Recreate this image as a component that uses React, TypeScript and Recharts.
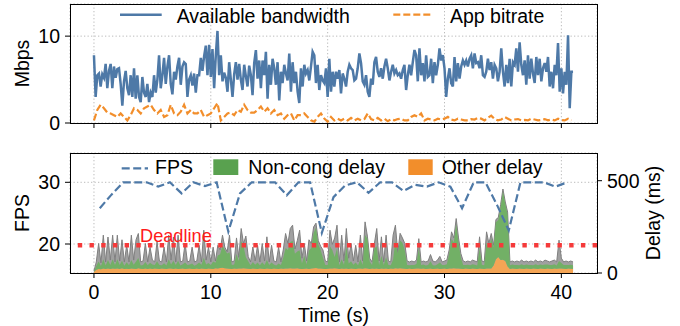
import React from "react";
import {
  LineChart,
  ComposedChart,
  Line,
  Area,
  XAxis,
  YAxis,
  CartesianGrid,
  ReferenceLine,
} from "recharts";

// available bandwidth (Mbps), one value every 1/7 s from 0 to 41 s
const bandwidth = [
  7.8, 3.0, 5.5, 5.7, 4.2, 5.6, 5.2, 6.8, 4.0, 6.0,
  6.8, 4.0, 6.5, 5.2, 6.2, 6.3, 4.5, 2.0, 4.8, 6.0,
  4.0, 3.2, 5.5, 3.0, 6.3, 2.8, 5.5, 3.0, 2.4, 5.3,
  3.5, 3.0, 4.5, 2.4, 3.5, 3.0, 5.5, 3.5, 5.0, 7.8,
  4.0, 5.5, 7.5, 4.5, 6.5, 7.8, 4.5, 3.3, 5.9, 5.0,
  6.5, 7.5, 4.4, 6.5, 7.0, 6.8, 3.0, 5.0, 5.5, 4.3,
  5.7, 3.5, 5.5, 5.5, 7.5, 6.0, 7.7, 8.9, 5.5, 9.0,
  5.3, 8.5, 4.0, 7.8, 10.6, 5.5, 7.8, 4.8, 5.8, 5.2,
  3.6, 7.0, 5.0, 3.0, 5.6, 7.0, 5.0, 6.8, 5.0, 3.8,
  6.7, 5.4, 4.2, 6.6, 5.5, 3.2,
  6.9, 8.4, 5.1, 7.2, 4.0, 7.2, 5.5, 8.2, 2.8, 6.7,
  4.4, 7.4, 6.3, 4.4, 7.0, 2.6, 5.9, 4.6, 6.7, 5.7,
  4.9, 8.0, 3.6, 7.0, 4.6, 5.9, 3.6, 2.3, 6.3, 4.2,
  6.7, 5.7, 6.1, 4.9, 6.5, 8.2, 7.8, 4.6, 6.7, 3.8,
  5.5, 4.9, 4.6, 6.3, 3.0, 7.4, 3.6, 5.9, 4.2, 5.9,
  5.1, 6.1, 3.4, 5.7, 5.1, 4.2, 5.9, 6.7, 6.3, 6.1,
  4.9, 5.1, 6.3, 8.0, 6.9, 4.8, 4.4, 5.5, 3.6, 3.0,
  5.1, 4.4, 7.0, 7.6, 5.9, 5.3, 6.3, 5.1, 6.5, 7.4,
  6.3, 4.9, 5.9, 6.7, 5.7, 6.1, 5.5, 5.7, 5.1, 6.1,
  6.7, 3.8, 5.5, 6.7, 5.5, 7.0, 8.4,
  7.8, 4.8, 8.6, 5.5, 6.9, 4.8, 7.8, 5.3, 5.5, 7.4,
  4.6, 7.0, 5.5, 6.7, 8.6, 7.2, 7.8, 6.3, 3.0, 5.1,
  6.3, 4.6, 4.2, 7.6, 4.8, 6.9, 5.1, 6.5, 7.2, 6.7,
  7.2, 6.5, 7.4, 7.8, 6.3, 8.0, 6.9, 7.0, 6.3, 7.8,
  5.5, 5.3, 5.9, 7.4, 6.1, 7.0, 5.1, 6.7, 6.3, 4.8,
  5.9, 8.6, 5.9, 4.2, 6.7, 4.6, 7.4, 4.2, 7.0, 6.7,
  8.6, 5.9, 9.3, 6.7, 5.5, 7.2, 4.4, 7.8, 5.1, 7.4,
  5.7, 4.6, 7.6, 5.5, 7.4, 4.8, 6.3, 6.9, 5.9, 7.6,
  4.2, 5.9, 4.0, 6.7, 5.5, 9.2, 3.6, 6.3, 3.4, 5.9,
  4.4, 10.1, 1.7, 5.9, 5.9,
];

// app bitrate (Mbps), one value every 2/7 s
const bitrate = [
  0.3, 1.5, 2.1, 1.7, 1.2, 1.1, 0.9, 0.7, 1.1, 0.7,
  0.3, 0.9, 1.7, 1.5, 1.1, 1.7, 1.9, 2.1, 1.5, 1.1,
  1.5, 0.7, 0.9, 2.1, 1.1, 0.9, 1.3, 2.1, 1.1, 1.5,
  1.1, 1.1, 1.5, 0.7, 0.9, 1.1, 1.7, 2.3, 0.3, 0.7,
  1.1, 1.2, 0.9, 1.5, 1.3, 2.1, 1.5, 1.2,
  1.2, 1.5, 1.9, 1.3, 1.7, 1.1, 1.5, 0.9, 1.1, 0.5,
  0.9, 1.1, 0.3, 0.9, 0.9, 1.1, 0.7, 0.3, 0.15, 0.7,
  1.1, 0.5, 0.15, 0.7, 0.3, 0.5, 0.3, 0.5, 0.3, 0.6,
  0.3, 0.5, 0.3, 0.45, 1.1, 0.45, 0.3, 0.6, 0.3, 0.5,
  0.2, 0.45, 0.3, 0.45, 0.5, 0.3, 0.3, 0.7, 0.9,
  0.7, 1.1, 0.3, 0.5, 0.4, 0.3, 0.5, 0.4, 0.5, 0.7,
  0.4, 0.3, 0.5, 0.4, 0.3, 0.3, 0.45, 0.4, 0.6, 0.5,
  0.3, 0.6, 0.85, 0.45, 0.3, 0.4, 0.7, 0.5, 0.3, 0.4,
  0.45, 0.3, 0.35, 0.3, 0.5, 0.4, 0.3, 0.35, 0.45, 0.3,
  0.4, 0.3, 0.5, 0.35, 0.3, 0.5, 0.3,
];

// frames per second, one value per second at t = 0.5, 1.5, ...
const fps = [
  25.8, 28.0, 30, 30, 30, 29.3, 30, 28.2, 30, 29.4,
  30, 22.0, 28.2, 30, 30, 30, 27.9, 30, 30, 21.8,
  27.6, 29.5, 30, 28.3, 30, 30, 28.6, 29.6, 29.3, 30,
  29.3, 25.8, 30, 30, 26.3, 22.2, 30, 30, 30, 29.3,
  30,
];

// delays (ms), one value every 0.2 s
const totalDelay = [
  10, 60, 160, 55, 205, 60, 195, 70, 205, 60,
  205, 65, 180, 60, 150, 60, 205, 70, 180, 214,
  60, 65, 160, 60, 140, 70, 60, 170, 65, 60,
  140, 60, 205, 70, 195, 60, 205, 60, 65, 160,
  60, 65, 140, 60, 65, 150, 60, 232, 70, 140,
  60, 140, 65, 150, 125, 205, 140, 115, 205, 60,
  65, 190, 85, 241, 160, 200, 90, 60, 141, 65,
  150, 60, 160, 65, 196, 60, 150, 65, 60, 140,
  60, 125, 214, 160, 241, 259, 130, 175, 232, 80,
  160, 65, 180, 160, 250, 270, 175, 145, 125, 65,
  60, 232, 155, 190, 259, 60, 205, 65, 241, 80,
  160, 65, 150, 60, 205, 65, 277, 200, 80, 60,
  160, 241, 65, 196, 60, 205, 65, 60, 205, 259,
  110, 215, 190, 160, 65, 60, 65, 60, 70, 186,
  60, 65, 60, 65, 100, 65, 60, 70, 90, 60,
  65, 70, 125, 223, 190, 295, 190, 105, 65, 60,
  65, 60, 70, 65, 60, 196, 65, 60, 223, 160,
  214, 150, 290, 300, 370, 455, 385, 330, 60, 65,
  60, 65, 60, 70, 60, 65, 60, 65, 60, 70,
  60, 65, 60, 70, 65, 60, 65, 70, 60, 178,
  80, 60, 65, 60, 65, 60,
];

const nonCongDelay = [
  3, 20, 40, 18, 50, 18, 45, 22, 50, 20,
  50, 22, 40, 18, 35, 20, 45, 22, 40, 55,
  18, 22, 35, 20, 30, 24, 20, 40, 22, 18,
  30, 18, 50, 22, 45, 20, 45, 18, 22, 35,
  20, 22, 30, 18, 22, 35, 20, 60, 24, 30,
  20, 40, 30, 70, 75, 120, 100, 80, 90, 22,
  22, 80, 40, 150, 120, 60, 40, 20, 35, 22,
  35, 18, 35, 22, 45, 20, 35, 22, 18, 30,
  20, 60, 110, 100, 140, 150, 80, 90, 100, 30,
  70, 22, 100, 110, 190, 220, 130, 100, 60, 22,
  20, 120, 100, 60, 110, 20, 50, 22, 120, 30,
  40, 22, 35, 18, 50, 22, 180, 160, 40, 20,
  110, 120, 22, 70, 20, 60, 22, 18, 50, 150,
  80, 150, 140, 100, 22, 18, 22, 20, 24, 110,
  20, 22, 18, 20, 40, 20, 18, 24, 35, 20,
  20, 25, 80, 160, 140, 240, 140, 60, 22, 20,
  22, 20, 24, 22, 18, 110, 22, 20, 140, 110,
  160, 100, 200, 200, 285, 370, 310, 280, 20, 22,
  20, 22, 18, 24, 20, 22, 20, 22, 18, 24,
  20, 22, 20, 24, 22, 20, 22, 24, 18, 40,
  30, 20, 22, 20, 22, 20,
];

const otherDelay = [
  5, 18, 22, 20, 24, 22, 25, 21, 24, 23,
  24, 22, 26, 21, 23, 22, 25, 23, 22, 26,
  23, 21, 24, 22, 25, 22, 24, 23, 21, 24,
  23, 22, 25, 24, 22, 24, 21, 23, 25, 22,
  23, 24, 22, 21, 24, 22, 25, 23, 22, 24,
  23, 22, 26, 25, 27, 28, 26, 25, 23, 22,
  24, 23, 25, 24, 26, 25, 23, 22, 24, 23,
  22, 24, 23, 21, 25, 23, 22, 24, 23, 22,
  24, 23, 25, 24, 26, 25, 24, 26, 23, 22,
  23, 24, 22, 25, 26, 27, 25, 24, 23, 22,
  23, 25, 24, 26, 24, 22, 24, 23, 25, 22,
  24, 23, 22, 24, 25, 23, 26, 25, 22, 24,
  23, 25, 22, 24, 23, 25, 22, 24, 23, 26,
  25, 26, 24, 23, 22, 24, 22, 23, 25, 24,
  23, 24, 22, 23, 24, 22, 23, 24, 22, 23,
  24, 22, 25, 24, 26, 25, 24, 23, 22, 24,
  23, 22, 24, 23, 22, 24, 23, 22, 25, 24,
  25, 40, 75, 87, 70, 72, 65, 35, 22, 24,
  23, 22, 24, 23, 22, 24, 23, 22, 24, 23,
  22, 24, 23, 22, 24, 23, 22, 24, 23, 25,
  24, 23, 22, 24, 23, 22,
];

const timeTicks = [0, 10, 20, 30, 40];
const DEADLINE = 150;

const bwData = bandwidth.map((v, i) => ({ t: i / 7, v }));
const brData = bitrate.map((v, i) => ({ t: (2 * i) / 7, v }));
const fpsData = fps.map((v, i) => ({ t: i + 0.5, v }));
const delayData = totalDelay.map((v, i) => ({
  t: i * 0.2,
  total: v,
  nonCong: nonCongDelay[i],
  other: otherDelay[i],
}));

const FONT = "'Liberation Sans', Arial, Helvetica, sans-serif";
const FS = 19.5;
const BLUE = "#4e79a7";
const ORANGE = "#f28e2b";
const GREEN = "#59a14f";
const tickStyle = { fill: "#000", fontSize: FS, fontFamily: FONT };
const XDOM: [number, number] = [-2.05, 43.05];

function Frame({ top, height }: { top: number; height: number }) {
  return (
    <div
      style={{
        position: "absolute",
        left: 70,
        top,
        width: 528,
        height,
        border: "1px solid #000",
        boxSizing: "border-box",
        pointerEvents: "none",
      }}
    />
  );
}

export default function App() {
  return (
    <div
      style={{
        position: "absolute",
        left: 0,
        top: 0,
        width: 680,
        height: 326,
        background: "#fff",
        fontFamily: FONT,
      }}
    >
      <div style={{ position: "absolute", left: 0, top: 0 }}>
        <LineChart width={680} height={140} margin={{ top: 4, right: 83, bottom: 7, left: 0 }}>
          <CartesianGrid stroke="#bbb" strokeDasharray="1.3 2.2" />
          <XAxis
            type="number"
            dataKey="t"
            domain={XDOM}
            allowDataOverflow
            ticks={timeTicks}
            interval={0}
            height={10}
            tickSize={5}
            stroke="#000"
            axisLine={false}
            tickFormatter={() => ""}
          />
          <YAxis
            type="number"
            domain={[0, 13.7]}
            allowDataOverflow
            ticks={[0, 10]}
            interval={0}
            width={70}
            tickSize={5}
            tickMargin={5}
            stroke="#000"
            axisLine={false}
            tick={tickStyle}
          />
          <Line
            data={bwData}
            dataKey="v"
            type="linear"
            stroke={BLUE}
            strokeWidth={2.5}
            dot={false}
            activeDot={false}
            isAnimationActive={false}
          />
          <Line
            data={brData}
            dataKey="v"
            type="linear"
            stroke={ORANGE}
            strokeWidth={2.2}
            strokeDasharray="7 3"
            dot={false}
            activeDot={false}
            isAnimationActive={false}
          />
        </LineChart>
      </div>

      <div style={{ position: "absolute", left: 0, top: 140 }}>
        <ComposedChart
          width={680}
          height={186}
          data={delayData}
          margin={{ top: 13, right: 0, bottom: 23, left: 0 }}
        >
          <CartesianGrid yAxisId="fps" stroke="#bbb" strokeDasharray="1.3 2.2" />
          <XAxis
            type="number"
            dataKey="t"
            domain={XDOM}
            allowDataOverflow
            ticks={timeTicks}
            interval={0}
            height={30}
            tickSize={5}
            tickMargin={7}
            stroke="#000"
            axisLine={false}
            tick={tickStyle}
          />
          <YAxis
            yAxisId="fps"
            type="number"
            domain={[15.3, 34.75]}
            allowDataOverflow
            ticks={[20, 30]}
            interval={0}
            width={70}
            tickSize={5}
            tickMargin={5}
            stroke="#000"
            axisLine={false}
            tick={tickStyle}
          />
          <YAxis
            yAxisId="delay"
            orientation="right"
            type="number"
            domain={[0, 650]}
            allowDataOverflow
            ticks={[0, 500]}
            interval={0}
            width={83}
            tickSize={5}
            tickMargin={5}
            stroke="#000"
            axisLine={false}
            tick={tickStyle}
          />
          <Area
            yAxisId="delay"
            dataKey="total"
            type="linear"
            stroke="#7f7f7f"
            strokeWidth={1}
            fill="#a0a0a0"
            fillOpacity={1}
            dot={false}
            activeDot={false}
            isAnimationActive={false}
          />
          <Area
            yAxisId="delay"
            dataKey="other"
            stackId="d"
            type="linear"
            stroke="none"
            fill="#f4a555"
            fillOpacity={1}
            dot={false}
            activeDot={false}
            isAnimationActive={false}
          />
          <Area
            yAxisId="delay"
            dataKey="nonCong"
            stackId="d"
            type="linear"
            stroke="none"
            fill="#72b066"
            fillOpacity={1}
            dot={false}
            activeDot={false}
            isAnimationActive={false}
          />
          <ReferenceLine
            yAxisId="delay"
            y={DEADLINE}
            stroke="#f53a3a"
            strokeWidth={4.4}
            strokeDasharray="4.4 7.3"
          />
          <Line
            yAxisId="fps"
            data={fpsData}
            dataKey="v"
            type="linear"
            stroke={BLUE}
            strokeWidth={2.2}
            strokeDasharray="8 3.5"
            dot={false}
            activeDot={false}
            isAnimationActive={false}
          />
        </ComposedChart>
      </div>

      <Frame top={4} height={120} />
      <Frame top={153} height={121} />

      <svg
        width={680}
        height={326}
        style={{ position: "absolute", left: 0, top: 0, pointerEvents: "none" }}
        fontFamily={FONT}
        fontSize={FS}
      >
        {/* top legend */}
        <line x1={120} x2={161.7} y1={14.7} y2={14.7} stroke={BLUE} strokeWidth={2.5} />
        <text x={176.7} y={22.7} fill="#000">Available bandwidth</text>
        <line x1={393.3} x2={433.3} y1={14.7} y2={14.7} stroke={ORANGE} strokeWidth={2.2} strokeDasharray="7 3" />
        <text x={450} y={22.7} fill="#000">App bitrate</text>

        {/* bottom legend */}
        <line x1={121.7} x2={148} y1={168.3} y2={168.3} stroke={BLUE} strokeWidth={2.2} strokeDasharray="8 3.5" />
        <text x={155} y={174.3} fill="#000">FPS</text>
        <rect x={213.3} y={159.3} width={25} height={15.7} fill={GREEN} />
        <text x={248.3} y={174.3} fill="#000">Non-cong delay</text>
        <rect x={408.3} y={159.3} width={24.4} height={15.7} fill={ORANGE} />
        <text x={441.7} y={174.3} fill="#000">Other delay</text>

        <text x={140} y={241.7} fill="#ff1a1a" fontSize={18.2}>Deadline</text>

        {/* axis labels */}
        <text transform="translate(29,63.5) rotate(-90)" textAnchor="middle" fill="#000">Mbps</text>
        <text transform="translate(29.3,213) rotate(-90)" textAnchor="middle" fill="#000">FPS</text>
        <text transform="translate(659.6,213) rotate(-90)" textAnchor="middle" fill="#000">Delay (ms)</text>
        <text x={333.5} y={321.5} textAnchor="middle" fill="#000">Time (s)</text>
      </svg>
    </div>
  );
}
